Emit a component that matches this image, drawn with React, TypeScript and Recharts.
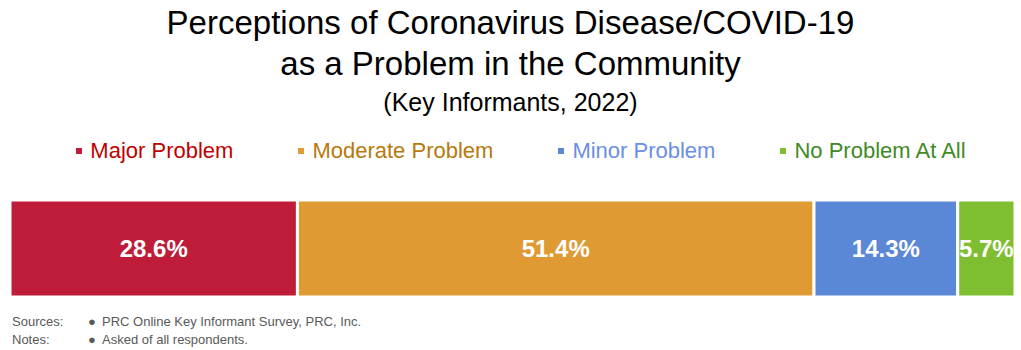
import React from "react";
import { Bar, BarChart, LabelList, XAxis, YAxis } from "recharts";

const categories = ["Key Informants"];
const seriesNames = ["Major Problem", "Moderate Problem", "Minor Problem", "No Problem At All"];
const seriesValues = [28.6, 51.4, 14.3, 5.7];
const barColors = ["#BE1C38", "#DF9A33", "#5B87D7", "#80BE31"];
const legendColors = ["#C00000", "#B8790C", "#6B8FE3", "#3F8A26"];
const keys = ["major", "moderate", "minor", "none"];

const data = categories.map((name) => {
  const row: Record<string, string | number> = { name };
  keys.forEach((k, i) => {
    row[k] = seriesValues[i];
  });
  return row;
});

const font = "'Liberation Sans', Arial, sans-serif";

const ChartLegend = () => (
  <div
    style={{
      position: "absolute",
      top: 138,
      left: 0,
      width: 1021,
      display: "flex",
      justifyContent: "center",
      gap: 65,
      fontSize: 22,
      paddingLeft: 21,
      boxSizing: "border-box",
    }}
  >
    {seriesNames.map((n, i) => (
      <div key={n} style={{ display: "flex", alignItems: "center", color: legendColors[i] }}>
        <span
          style={{
            display: "inline-block",
            width: 6,
            height: 6,
            background: barColors[i],
            marginRight: 8,
          }}
        />
        {n}
      </div>
    ))}
  </div>
);

export default function App() {
  return (
    <div
      style={{
        position: "absolute",
        left: 0,
        top: 0,
        width: 1021,
        height: 350,
        background: "#fff",
        fontFamily: font,
      }}
    >
      <div
        style={{
          position: "absolute",
          top: 2,
          width: 1021,
          textAlign: "center",
          fontSize: 33,
          lineHeight: "41px",
          color: "#000",
        }}
      >
        Perceptions of Coronavirus Disease/COVID-19
        <br />
        as a Problem in the Community
      </div>
      <div
        style={{
          position: "absolute",
          top: 88,
          width: 1021,
          textAlign: "center",
          fontSize: 25,
          color: "#000",
        }}
      >
        (Key Informants, 2022)
      </div>
      <ChartLegend />
      <BarChart
        width={1021}
        height={350}
        data={data}
        layout="vertical"
        margin={{ top: 200, right: 6, bottom: 53, left: 10 }}
        barCategoryGap={0}
      >
        <XAxis type="number" domain={[0, 100]} hide />
        <YAxis type="category" dataKey="name" hide />
        {keys.map((k, i) => (
          <Bar
            key={k}
            dataKey={k}
            name={seriesNames[i]}
            stackId="a"
            fill={barColors[i]}
            stroke="#fff"
            strokeWidth={3}
            isAnimationActive={false}
          >
            <LabelList
              dataKey={k}
              position="center"
              formatter={(v: any) => `${Number(v).toFixed(1)}%`}
              style={{
                fill: "#fff",
                fontWeight: "bold",
                fontSize: 24,
                fontFamily: font,
              }}
            />
          </Bar>
        ))}
      </BarChart>
      <div
        style={{
          position: "absolute",
          top: 313,
          left: 12,
          fontSize: 13,
          lineHeight: "18px",
          color: "#595959",
        }}
      >
        <div style={{ display: "flex" }}>
          <span style={{ width: 76 }}>Sources:</span>
          <span style={{ width: 14 }}>●</span>
          <span>PRC Online Key Informant Survey, PRC, Inc.</span>
        </div>
        <div style={{ display: "flex" }}>
          <span style={{ width: 76 }}>Notes:</span>
          <span style={{ width: 14 }}>●</span>
          <span>Asked of all respondents.</span>
        </div>
      </div>
    </div>
  );
}
